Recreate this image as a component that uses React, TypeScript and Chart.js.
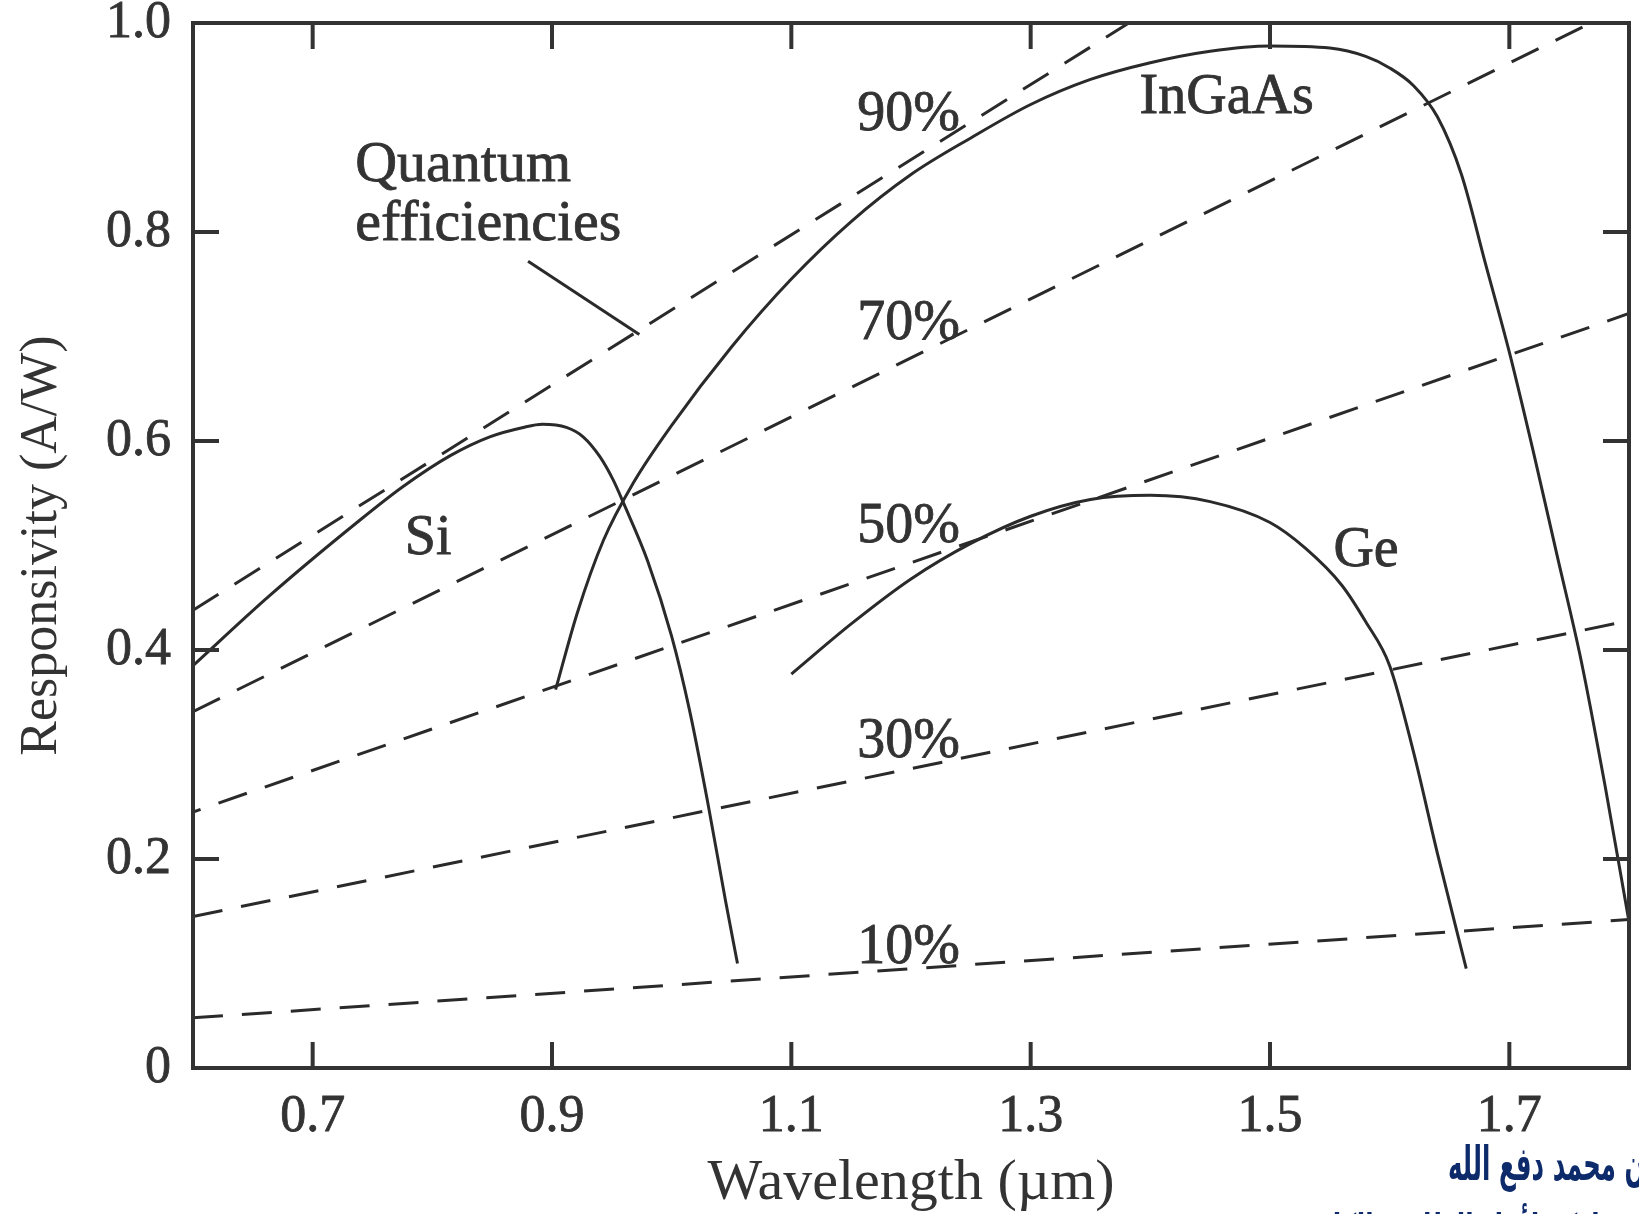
import React, { useEffect, useRef } from "react";
import { Chart, registerables } from "chart.js";

Chart.register(...registerables);

// ---- axis ticks ----
const xTickValues = [0.7, 0.9, 1.1, 1.3, 1.5, 1.7];
const xTickLabels = ["0.7", "0.9", "1.1", "1.3", "1.5", "1.7"];
const yTickValues = [0, 0.2, 0.4, 0.6, 0.8, 1.0];
const yTickLabels = ["0", "0.2", "0.4", "0.6", "0.8", "1.0"];

// ---- responsivity curves (wavelength µm, A/W) ----
const siWavelength = [0.6, 0.664, 0.737, 0.775, 0.815, 0.848, 0.876, 0.892, 0.912, 0.926, 0.94, 0.951, 0.96, 0.98, 1.0, 1.015, 1.03, 1.045, 1.055];
const siResp = [0.385, 0.452, 0.522, 0.556, 0.586, 0.604, 0.613, 0.616, 0.613, 0.604, 0.585, 0.563, 0.54, 0.485, 0.413, 0.342, 0.255, 0.16, 0.1];

const ingaasWavelength = [0.903, 0.921, 0.943, 0.968, 1.0, 1.05, 1.1, 1.15, 1.2, 1.25, 1.3, 1.35, 1.4, 1.45, 1.5, 1.55, 1.58, 1.6, 1.62, 1.64, 1.66, 1.68, 1.7, 1.72, 1.74, 1.76, 1.78, 1.8];
const ingaasResp = [0.362, 0.435, 0.505, 0.56, 0.615, 0.69, 0.755, 0.81, 0.855, 0.89, 0.922, 0.946, 0.962, 0.973, 0.978, 0.976, 0.968, 0.957, 0.94, 0.91, 0.855, 0.77, 0.685, 0.59, 0.49, 0.39, 0.27, 0.14];

const geWavelength = [1.1, 1.15, 1.2, 1.25, 1.3, 1.35, 1.4, 1.45, 1.5, 1.53, 1.56, 1.58, 1.6, 1.62, 1.64, 1.664];
const geResp = [0.377, 0.425, 0.468, 0.502, 0.528, 0.544, 0.548, 0.542, 0.522, 0.497, 0.462, 0.427, 0.385, 0.302, 0.205, 0.095];

// ---- quantum-efficiency lines (end points) ----
const qe10Wavelength = [0.6, 1.8];
const qe10Resp = [0.048, 0.142];
const qe30Wavelength = [0.6, 1.8];
const qe30Resp = [0.145, 0.428];
const qe50Wavelength = [0.6, 1.8];
const qe50Resp = [0.245, 0.722];
const qe70Wavelength = [0.6, 1.768];
const qe70Resp = [0.341, 1.0];
const qe90Wavelength = [0.6, 1.382];
const qe90Resp = [0.438, 1.0];

// pointer from "Quantum efficiencies" label to the 90% line
const pointerWavelength = [0.88, 0.973];
const pointerResp = [0.772, 0.702];

// ---- text labels inside the plot ----
const labelTexts = ["Quantum", "efficiencies", "90%", "70%", "50%", "30%", "10%", "Si", "InGaAs", "Ge"];
const labelWavelength = [0.7355, 0.7355, 1.155, 1.155, 1.155, 1.155, 1.155, 0.777, 1.391, 1.553];
const labelResp = [0.863, 0.807, 0.912, 0.712, 0.517, 0.312, 0.115, 0.506, 0.928, 0.494];

const SERIF = "'Liberation Serif', 'Times New Roman', serif";
const INK = "#2a2a2a";
const TEXT = "#333333";

const pts = (xs: number[], ys: number[]) => xs.map((x, i) => ({ x, y: ys[i] }));

const solid = (label: string, xs: number[], ys: number[]) => ({
  label,
  data: pts(xs, ys),
  borderColor: INK,
  borderWidth: 3,
  pointRadius: 0,
  fill: false,
  cubicInterpolationMode: "monotone" as const,
});

const dashed = (label: string, xs: number[], ys: number[], offset = 0) => ({
  label,
  data: pts(xs, ys),
  borderColor: INK,
  borderWidth: 3,
  borderDash: [30, 19],
  borderDashOffset: offset,
  pointRadius: 0,
  fill: false,
});

const framePlugin = {
  id: "frame",
  afterDatasetsDraw(chart: any) {
    const { ctx, chartArea: a, scales } = chart;
    const xs = scales.x;
    const ys = scales.y;
    ctx.save();
    ctx.strokeStyle = "#333333";
    ctx.lineWidth = 4;
    ctx.strokeRect(a.left, a.top, a.right - a.left, a.bottom - a.top);
    const tl = 26;
    ctx.beginPath();
    for (const v of xTickValues) {
      const px = xs.getPixelForValue(v);
      ctx.moveTo(px, a.top);
      ctx.lineTo(px, a.top + tl);
      ctx.moveTo(px, a.bottom);
      ctx.lineTo(px, a.bottom - tl);
    }
    for (const v of yTickValues) {
      if (v <= 0 || v >= 1) continue;
      const py = ys.getPixelForValue(v);
      ctx.moveTo(a.left, py);
      ctx.lineTo(a.left + tl, py);
      ctx.moveTo(a.right, py);
      ctx.lineTo(a.right - tl, py);
    }
    ctx.stroke();

    ctx.fillStyle = TEXT;
    ctx.strokeStyle = TEXT;
    ctx.lineWidth = 0.8;
    ctx.textAlign = "left";
    ctx.textBaseline = "middle";
    labelTexts.forEach((t, i) => {
      const size = i < 2 ? 58 : 56;
      ctx.font = `${size}px ${SERIF}`;
      const px = xs.getPixelForValue(labelWavelength[i]);
      const py = ys.getPixelForValue(labelResp[i]);
      ctx.fillText(t, px, py);
      ctx.strokeText(t, px, py);
    });
    ctx.restore();
  },
};

export default function App() {
  const ref = useRef<HTMLCanvasElement>(null);
  useEffect(() => {
    const chart = new Chart(ref.current as HTMLCanvasElement, {
      type: "line",
      data: {
        datasets: [
          dashed("10%", qe10Wavelength, qe10Resp),
          dashed("30%", qe30Wavelength, qe30Resp),
          dashed("50%", qe50Wavelength, qe50Resp, 22),
          dashed("70%", qe70Wavelength, qe70Resp),
          dashed("90%", qe90Wavelength, qe90Resp),
          solid("Si", siWavelength, siResp),
          solid("InGaAs", ingaasWavelength, ingaasResp),
          solid("Ge", geWavelength, geResp),
          { ...solid("pointer", pointerWavelength, pointerResp), cubicInterpolationMode: "default" as const },
        ],
      },
      options: {
        animation: false,
        responsive: false,
        devicePixelRatio: 1,
        layout: { padding: { top: 23, right: 10, left: 0, bottom: 0 } },
        plugins: { legend: { display: false }, tooltip: { enabled: false } },
        scales: {
          x: {
            type: "linear",
            min: 0.6,
            max: 1.8,
            grid: { display: false, drawTicks: false },
            border: { display: false },
            afterBuildTicks: (s: any) => {
              s.ticks = xTickValues.map((v) => ({ value: v }));
            },
            afterFit: (s: any) => {
              s.height = 1214 - 1068;
              s.paddingLeft = 0;
              s.paddingRight = 0;
            },
            ticks: {
              autoSkip: false,
              maxRotation: 0,
              padding: 18,
              color: TEXT,
              textStrokeColor: TEXT,
              textStrokeWidth: 0.8,
              font: { family: SERIF, size: 52 },
              callback: (_v: any, i: number) => xTickLabels[i],
            },
            title: {
              display: true,
              text: "Wavelength (µm)",
              color: TEXT,
              font: { family: SERIF, size: 58, lineHeight: 1 },
              padding: { top: 0, bottom: 1 },
            },
          },
          y: {
            type: "linear",
            min: 0,
            max: 1,
            grid: { display: false, drawTicks: false },
            border: { display: false },
            afterBuildTicks: (s: any) => {
              s.ticks = yTickValues.map((v) => ({ value: v }));
            },
            afterFit: (s: any) => {
              s.width = 193;
              s.paddingTop = 0;
              s.paddingBottom = 0;
            },
            ticks: {
              autoSkip: false,
              padding: 22,
              color: TEXT,
              textStrokeColor: TEXT,
              textStrokeWidth: 0.8,
              font: { family: SERIF, size: 52 },
              callback: (_v: any, i: number) => yTickLabels[i],
            },
            title: {
              display: true,
              text: "Responsivity (A/W)",
              color: TEXT,
              font: { family: SERIF, size: 52, lineHeight: 1 },
              padding: { top: 16, bottom: 0 },
            },
          },
        },
      },
      plugins: [framePlugin],
    } as any);
    return () => chart.destroy();
  }, []);

  return (
    <div style={{ position: "fixed", left: 0, top: 0, width: 1639, height: 1214, overflow: "hidden", background: "#fff" }}>
      <canvas ref={ref} width={1639} height={1214} style={{ display: "block", width: 1639, height: 1214 }} />
      <div
        dir="rtl"
        style={{
          position: "absolute",
          right: -6,
          top: 1130,
          fontFamily: "'DejaVu Sans', sans-serif",
          fontWeight: "bold",
          fontSize: 47,
          lineHeight: "68px",
          color: "#0d2a6b",
          whiteSpace: "nowrap",
          textAlign: "right",
          transform: "scaleX(0.52)",
          transformOrigin: "right top",
        }}
      >
        <div>ن محمد دفع الله</div>
        <div style={{ marginRight: 40 }}>شاركة لأجل الطلبة والكلية</div>
      </div>
    </div>
  );
}
